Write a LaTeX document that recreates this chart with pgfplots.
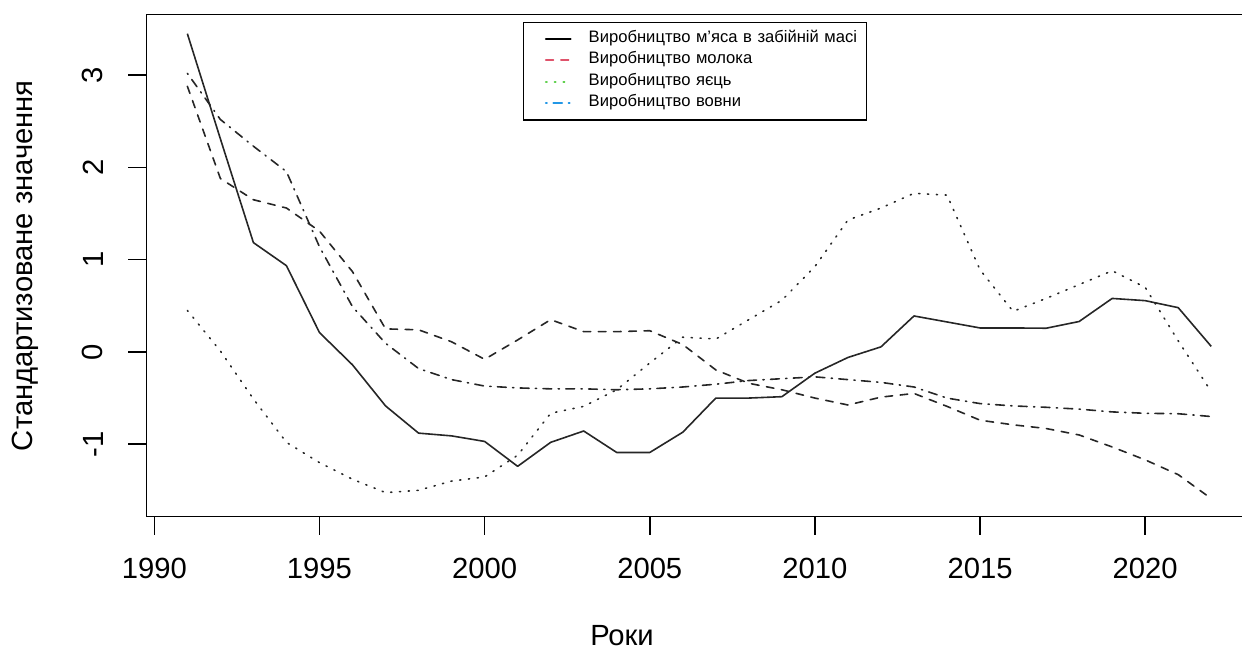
\documentclass[border=0pt]{standalone}
\usepackage{fontspec}
\setmainfont{Liberation Sans}
\usepackage{pgfplots}
\pgfplotsset{compat=1.18}
\usepackage{pgfplotstable}

\definecolor{rred}{HTML}{DF536B}
\definecolor{rgreen}{HTML}{61D04F}
\definecolor{rblue}{HTML}{2297E6}

\pgfplotstableread{
year meat milk eggs wool
1991 3.45 2.88 0.45 3.02
1992 2.31 1.88 0.01 2.52
1993 1.185 1.65 -0.51 2.23
1994 0.935 1.56 -0.98 1.955
1995 0.21 1.31 -1.20 1.14
1996 -0.14 0.87 -1.38 0.49
1997 -0.585 0.25 -1.525 0.094
1998 -0.88 0.24 -1.50 -0.18
1999 -0.91 0.11 -1.40 -0.30
2000 -0.97 -0.08 -1.355 -0.37
2001 -1.24 0.13 -1.12 -0.39
2002 -0.98 0.35 -0.665 -0.40
2003 -0.857 0.22 -0.59 -0.40
2004 -1.09 0.22 -0.41 -0.41
2005 -1.09 0.23 -0.12 -0.40
2006 -0.87 0.08 0.16 -0.38
2007 -0.50 -0.195 0.14 -0.35
2008 -0.50 -0.34 0.35 -0.31
2009 -0.485 -0.41 0.56 -0.29
2010 -0.23 -0.50 0.925 -0.27
2011 -0.06 -0.575 1.43 -0.30
2012 0.055 -0.49 1.56 -0.33
2013 0.39 -0.45 1.72 -0.38
2014 0.325 -0.59 1.70 -0.50
2015 0.26 -0.74 0.89 -0.56
2016 0.26 -0.79 0.44 -0.585
2017 0.257 -0.83 0.58 -0.60
2018 0.33 -0.90 0.73 -0.62
2019 0.58 -1.03 0.88 -0.65
2020 0.556 -1.17 0.70 -0.665
2021 0.48 -1.33 0.12 -0.67
2022 0.06 -1.59 -0.43 -0.70
}\datatable

\tikzset{
  rdashed/.style={dash pattern=on 3.8pt off 3.8pt},
  rdotted/.style={dash pattern=on 0.6pt off 3.8pt},
  rdotdash/.style={dash pattern=on 0.6pt off 3.2pt on 4.4pt off 3.2pt},
}

\begin{document}
\begin{tikzpicture}
\begin{axis}[
  at={(73.2pt,68.15pt)}, anchor=south west,
  width=552.9pt, height=251.1pt, scale only axis,
  xmin=1989.76, xmax=2023.24, ymin=-1.786, ymax=3.658,
  xtick={1990,1995,...,2020}, ytick={-1,0,...,3},
  tick pos=left, tick align=outside, major tick length=9pt,
  minor tick num=0,
  every tick/.style={line width=0.8pt, black},
  axis line style={line width=0.8pt, black},
  /pgf/number format/assume math mode=true,
  /pgf/number format/1000 sep={},
  xticklabel style={font=\fontsize{14.6}{17}\selectfont, anchor=north, inner sep=0pt, yshift=-11.5pt},
  yticklabel style={font=\fontsize{14.6}{17}\selectfont, xshift=-12.5pt, rotate=90, anchor=south, inner sep=0pt},
  xlabel={Роки},
  ylabel={Стандартизоване значення},
  xlabel style={font=\fontsize{14.6}{17}\selectfont, at={(axis description cs:0.4301,-0.2376)}, anchor=center, inner sep=0pt},
  ylabel style={font=\fontsize{14.6}{17}\selectfont, at={(axis description cs:-0.1098,0.5)}, anchor=center, inner sep=0pt},
  legend image code/.code={\path[draw=none] (0pt,0pt) -- (32.5pt,0pt); \draw[#1] (11pt,0pt) -- (23.5pt,0pt);},
  legend style={at={(rel axis cs:0.3406,0.986)}, anchor=north west, draw=black, line width=0.7pt, fill=white,
    inner xsep=0pt, inner ysep=3pt, font=\fontsize{8.3}{10}\selectfont, row sep=0pt, column sep=0pt,
    nodes={inner xsep=0pt, inner ysep=0pt, text height=7pt, text depth=3.7pt, anchor=west, text width=139pt}},
  legend cell align=left,
]
\addlegendimage{black, line width=0.9pt, solid, line cap=round}
\addlegendentry{Виробництво м\char"0027яса в забійній масі}
\addlegendimage{rred, line width=0.9pt, rdashed, line cap=round}
\addlegendentry{Виробництво молока}
\addlegendimage{rgreen, line width=0.9pt, rdotted, line cap=round}
\addlegendentry{Виробництво яєць}
\addlegendimage{rblue, line width=0.9pt, rdotdash, line cap=round}
\addlegendentry{Виробництво вовни}

\addplot[forget plot, black!85, line width=0.8pt, solid, line join=round] table[x=year, y=meat] {\datatable};
\addplot[forget plot, black!85, line width=0.8pt, rdashed, line cap=round, line join=round] table[x=year, y=milk] {\datatable};
\addplot[forget plot, black!85, line width=0.8pt, rdotted, line cap=round, line join=round] table[x=year, y=eggs] {\datatable};
\addplot[forget plot, black!85, line width=0.8pt, rdotdash, line cap=round, line join=round] table[x=year, y=wool] {\datatable};
\end{axis}
\pgfresetboundingbox
\path[use as bounding box] (0pt,0pt) rectangle (621pt,326.5pt);
\end{tikzpicture}
\end{document}
